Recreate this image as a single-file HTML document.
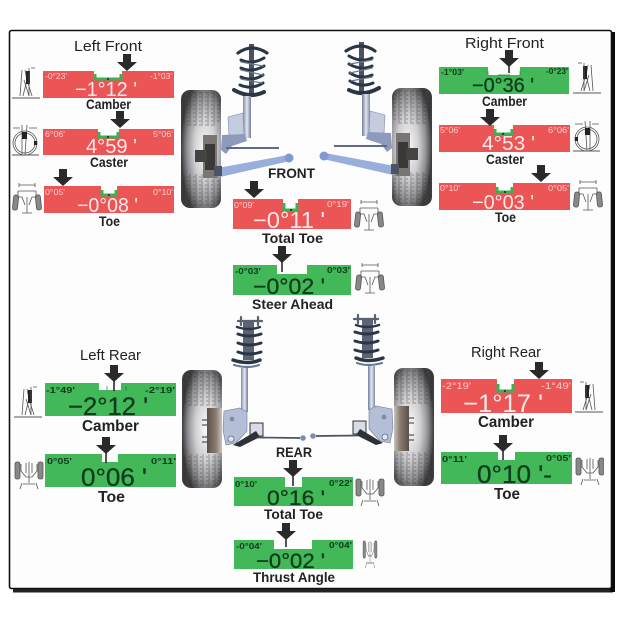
<!DOCTYPE html>
<html><head><meta charset="utf-8"><style>
html,body{margin:0;padding:0;background:#fff}
svg{display:block}
text{font-family:"Liberation Sans",sans-serif}
.h{font-size:15px;fill:#222}
.b{font-size:13.5px;font-weight:bold;fill:#222}
.w{fill:#fbe9e9;font-size:20px}
.k{fill:#0f3d1d;font-size:20px;stroke:#0f3d1d;stroke-width:.35}
.sw{fill:#f8d0d0;font-size:8px}
.sk{fill:#0f3d1d;font-size:8px;font-weight:bold}
.r{fill:#ec5455}
.g{fill:#43b859}
.t{fill:none;stroke:#3fae52;stroke-width:3}
.i{fill:none;stroke:#555;stroke-width:.8}
</style></head><body>
<svg width="620" height="620" viewBox="0 0 620 620" xmlns="http://www.w3.org/2000/svg">
<defs>
<radialGradient id="wg" cx=".6" cy=".5" r=".6"><stop offset="0" stop-color="#fafafa"/><stop offset=".45" stop-color="#cfcfd2"/><stop offset=".75" stop-color="#909094"/><stop offset="1" stop-color="#3c3c3e"/></radialGradient>
<linearGradient id="rod" x1="0" x2="1" y1="0" y2="0"><stop offset="0" stop-color="#7f8ba8"/><stop offset=".5" stop-color="#e4e8f0"/><stop offset="1" stop-color="#6f7c9c"/></linearGradient>
<linearGradient id="drum" x1="0" x2="1" y1="0" y2="0"><stop offset="0" stop-color="#5b5048"/><stop offset=".6" stop-color="#8a7d72"/><stop offset="1" stop-color="#c9c4be"/></linearGradient>
<pattern id="tr" width="6" height="4" patternUnits="userSpaceOnUse"><path d="M0 3H4M3 0V2" stroke="#222" stroke-width=".7" opacity=".5"/></pattern>
<g id="wheel"><rect width="40" height="118" rx="9" fill="url(#wg)"/><rect x="1" y="2" width="38" height="34" rx="8" fill="url(#tr)"/><rect x="1" y="84" width="38" height="32" rx="8" fill="url(#tr)"/></g>
<polygon id="arrow" points="-4,0 4,0 4,8 10,8 0,17 -10,8 -4,8" fill="#2c2c2c"/>
<g id="front">
<use href="#wheel" x="181" y="90"/>
<rect x="203" y="135" width="14" height="43" fill="#7a7673"/>
<rect x="205" y="144" width="10" height="26" fill="#3a3838"/>
<rect x="195" y="150" width="12" height="12" fill="#454343"/>
<rect x="249" y="44" width="5" height="52" fill="#4a5262"/>
<g fill="none" stroke="#2b3444" stroke-linecap="round">
<path d="M238 53 Q252 43 267 53" stroke-width="3.2"/>
<path d="M241 60 Q252 65 264 58M241 68 Q252 73 264 66M241 77 Q252 82 263 75M240 85 Q252 90 263 83" stroke-width="3"/>
<path d="M241 62 L263 66M241 70 L263 75M241 79 L262 83" stroke="#6b7a90" stroke-width="1.3"/>
<path d="M234 90 Q250 99 264 92" stroke-width="4"/>
</g>
<rect x="243" y="96" width="8" height="42" fill="url(#rod)"/>
<polygon points="228,117 243,113 244,137 229,135" fill="#c4cce0" stroke="#7f8ba8" stroke-width=".6"/>
<polygon points="222,135 245,134 247,141 232,146 226,154 221,150" fill="#8d9abb"/>
<path d="M226 148 L279 148" stroke="#5f6b85" stroke-width="2"/>
<polygon points="218,168 288,155 290,161 220,177" fill="#9aaedb"/>
<circle cx="289" cy="158" r="4.5" fill="#8198d2"/>
<rect x="214" y="166" width="8" height="10" fill="#4e5260"/>
</g>
<g id="rear">
<use href="#wheel" x="182" y="370"/>
<rect x="207" y="408" width="15" height="45" fill="url(#drum)"/>
<path d="M202 420H207M202 425H207M202 437H207M202 442H207" stroke="#333" stroke-width="1.1"/>
<g fill="none" stroke="#2b3444" stroke-linecap="round">
<path d="M238 321H262M241 317V325M258 317V325" stroke-width="2.2" stroke="#5a6270"/>
<rect x="243" y="322" width="11" height="38" fill="#5b6475" stroke="none"/>
<path d="M238 334 Q249 338 261 334M238 343 Q249 347 261 343M238 352 Q249 356 261 352" stroke-width="3"/>
<path d="M237 327 Q249 331 260 327" stroke-width="2.4"/>
<path d="M233 360 Q248 365 260 360" stroke-width="3.4"/>
<path d="M234 365 Q248 369 259 365" stroke-width="2.2" stroke="#6b7a90"/>
</g>
<rect x="241" y="368" width="7" height="44" fill="url(#rod)"/>
<polygon points="224,411 240,408 247,412 247,431 236,443 226,445 223,430" fill="#b4bed6" stroke="#6f7c9c" stroke-width=".6"/>
<circle cx="232" cy="419" r="2.4" fill="#7f8ba8"/><circle cx="231" cy="439" r="3" fill="#e0e4ee" stroke="#5f6b85" stroke-width=".8"/>
<rect x="250" y="423" width="13" height="13" fill="#d8dce6" stroke="#333" stroke-width="1"/>
<polygon points="233,445 256,431 260,437 240,447" fill="#2e3038"/>
<path d="M258 437.5 L300 438" stroke="#4a5260" stroke-width="1.7"/>
<circle cx="303" cy="438" r="2.8" fill="#7a8fb0"/>
</g>
<g id="cam" class="i"><path d="M0 0H28" stroke-width="1"/><path d="M8 -2 L10 -28 M11 -2 L15 -18 L13 -28 M17 -2 L12 -18 M20 -2 L15 -18"/><rect x="14" y="-27" width="4" height="13" fill="#222" stroke="none"/><path d="M17 -30 V-2 M19 -30 H23"/></g>
<g id="cas" class="i"><path d="M-13 12H14" stroke-width="1"/><ellipse cx="0" cy="0" rx="12" ry="12"/><ellipse cx="0" cy="0" rx="10" ry="10"/><path d="M-3 -18 V12 M2 -18 L0 12 M-12 -15H-5 M12 -15H4"/><rect x="-3" y="-11" width="5" height="7" fill="#222" stroke="none"/><rect x="9" y="-2" width="3" height="4" fill="#222" stroke="none"/></g>
<g id="toe" class="i"><rect x="0" y="12" width="5" height="15" rx="2" fill="#888" transform="rotate(6 2 20)"/><rect x="23" y="12" width="5" height="15" rx="2" fill="#888" transform="rotate(-6 25 20)"/><path d="M5 8H23M5 8V14H9L12 22 M23 8V14H19L16 22 M14 14V30M9 30H19 M6 2H22M6 0V4M22 0V4"/></g>
<g id="rt" class="i"><rect x="0" y="3" width="5" height="17" rx="2" fill="#888"/><rect x="23" y="3" width="5" height="17" rx="2" fill="#888"/><path d="M6 5V12L11 18H17L22 12V5M11 4V14M17 4V14M14 3V24M7 24L5 30M21 24L23 30 M8 25H20"/></g>
<filter id="bl" x="0" y="0" width="100%" height="100%"><feGaussianBlur stdDeviation=".35"/></filter>
</defs>

<rect x="13" y="589" width="600" height="3.5" fill="#222"/>
<rect x="610" y="32" width="5" height="560" fill="#0a0a0a"/>
<rect x="9.5" y="30.5" width="602" height="558" fill="#fdfdfd" stroke="#111" stroke-width="1.6" rx="2"/>

<g filter="url(#bl)">
<use href="#front"/>
<use href="#front" transform="translate(613,-2) scale(-1,1)"/>
<use href="#rear"/>
<use href="#rear" transform="translate(616,-2) scale(-1,1)"/>

<!-- Gauges -->
<path class="r" d="M43 71H94V80H122V71H174V98H43Z"/>
<path class="t" d="M95 74V79H121V74"/><circle cx="108" cy="79" r="1" fill="#222"/>
<path class="r" d="M43 129H98V138H119V129H174V155H43Z"/>
<path class="t" d="M99 132V137H118V132"/><circle cx="108" cy="137" r="1" fill="#222"/>
<path class="r" d="M44 186H101V196H117V186H174V213H44Z"/>
<path class="t" d="M102 190V195H116V190"/><circle cx="109" cy="195" r="1" fill="#222"/>
<path class="r" d="M233 199H283V211H298V199H351V229H233Z"/>
<path class="t" d="M284 203V210H297V203"/><circle cx="291" cy="210" r="1" fill="#222"/>
<path class="g" d="M233 265H277V274H307V265H351V295H233Z"/>
<path class="g" d="M439 67H488V75H520V67H569V94H439Z"/>
<path d="M488 71V75M520 71V75M498 75H510" stroke="#2b7a3e" stroke-width=".7"/>
<path class="r" d="M439 125H494V135H513V125H570V152H439Z"/>
<path class="t" d="M495 129V134H512V129"/><circle cx="503" cy="134" r="1" fill="#222"/>
<path class="r" d="M439 183H496V193H513V183H570V210H439Z"/>
<path class="t" d="M497 187V192H512V187"/><circle cx="505" cy="192" r="1" fill="#222"/>
<path class="g" d="M45 383H99V390H121V383H176V416H45Z"/>
<path d="M107 386V390M126 386V391" stroke="#2b7a3e" stroke-width=".7"/>
<path class="g" d="M45 454H102V462H118V454H176V487H45Z"/>
<path class="g" d="M234 477H285V487H302V477H353V506H234Z"/>
<path class="g" d="M234 540H274V549H312V540H353V569H234Z"/>
<path class="r" d="M441 379H497V392H514V379H572V413H441Z"/>
<path class="t" d="M498 384V391H513V384"/><circle cx="505" cy="391" r="1" fill="#222"/>
<path class="g" d="M441 452H498V460H515V452H572V484H441Z"/>

<!-- Arrows -->
<use href="#arrow" x="127" y="54"/><use href="#arrow" x="120" y="111"/><use href="#arrow" x="63" y="169"/>
<use href="#arrow" x="254" y="181"/><use href="#arrow" x="282" y="246"/>
<use href="#arrow" x="509" y="50"/><use href="#arrow" x="490" y="109"/><use href="#arrow" x="541" y="165"/>
<use href="#arrow" x="114" y="365"/><use href="#arrow" x="106" y="437"/>
<use href="#arrow" x="293" y="460"/><use href="#arrow" x="286" y="523"/>
<use href="#arrow" x="539" y="362"/><use href="#arrow" x="503" y="435"/>
<path d="M282 262V272M509 66V73M114 381V391M106 453V463M293 476V486M286 539V547M503 451V460" stroke="#2c2c2c" stroke-width="1.6"/>

<!-- Icons -->
<use href="#cam" transform="translate(12,98)"/>
<use href="#cam" transform="translate(601,93) scale(-1,1)"/>
<use href="#cam" transform="translate(14,417)"/>
<use href="#cam" transform="translate(603,412) scale(-1,1)"/>
<use href="#cas" transform="translate(25,143)"/>
<use href="#cas" transform="translate(587,139) scale(-1,1)"/>
<use href="#toe" transform="translate(13,183)"/>
<use href="#toe" transform="translate(574,180)"/>
<use href="#toe" transform="translate(355,200)"/>
<use href="#toe" transform="translate(356,263)"/>
<use href="#rt" transform="translate(15,459)"/>
<use href="#rt" transform="translate(576,455)"/>
<use href="#rt" transform="translate(356,476)"/>
<use href="#rt" transform="translate(363,538) scale(.5,1)"/>

<!-- Headings -->
<text class="h" x="74" y="51" textLength="68" lengthAdjust="spacingAndGlyphs">Left Front</text>
<text class="h" x="465" y="48" textLength="79" lengthAdjust="spacingAndGlyphs">Right Front</text>
<text class="h" x="80" y="360" textLength="61" lengthAdjust="spacingAndGlyphs">Left Rear</text>
<text class="h" x="471" y="357" textLength="70" lengthAdjust="spacingAndGlyphs">Right Rear</text>

<!-- Labels -->
<text class="b" x="86" y="109" textLength="45" lengthAdjust="spacingAndGlyphs">Camber</text>
<text class="b" x="90" y="167" textLength="38" lengthAdjust="spacingAndGlyphs">Caster</text>
<text class="b" x="99" y="226" textLength="21" lengthAdjust="spacingAndGlyphs">Toe</text>
<text class="b" x="268" y="178" textLength="47" lengthAdjust="spacingAndGlyphs">FRONT</text>
<text class="b" x="262" y="243" textLength="61" lengthAdjust="spacingAndGlyphs">Total Toe</text>
<text class="b" x="252" y="309" textLength="81" lengthAdjust="spacingAndGlyphs">Steer Ahead</text>
<text class="b" x="482" y="106" textLength="45" lengthAdjust="spacingAndGlyphs">Camber</text>
<text class="b" x="486" y="164" textLength="38" lengthAdjust="spacingAndGlyphs">Caster</text>
<text class="b" x="495" y="222" textLength="21" lengthAdjust="spacingAndGlyphs">Toe</text>
<text class="b" style="font-size:15.5px" x="82" y="431" textLength="57" lengthAdjust="spacingAndGlyphs">Camber</text>
<text class="b" style="font-size:15.5px" x="98" y="502" textLength="27" lengthAdjust="spacingAndGlyphs">Toe</text>
<text class="b" x="276" y="457" textLength="36" lengthAdjust="spacingAndGlyphs">REAR</text>
<text class="b" x="264" y="519" textLength="59" lengthAdjust="spacingAndGlyphs">Total Toe</text>
<text class="b" x="253" y="582" textLength="82" lengthAdjust="spacingAndGlyphs">Thrust Angle</text>
<text class="b" style="font-size:15.5px" x="478" y="427" textLength="56" lengthAdjust="spacingAndGlyphs">Camber</text>
<text class="b" style="font-size:15.5px" x="494" y="499" textLength="26" lengthAdjust="spacingAndGlyphs">Toe</text>

<!-- Small values -->
<text class="sw" x="45" y="79" textLength="22" lengthAdjust="spacingAndGlyphs">-0°23'</text>
<text class="sw" x="150" y="79" textLength="22" lengthAdjust="spacingAndGlyphs">-1°03'</text>
<text class="sw" x="45" y="137" textLength="20" lengthAdjust="spacingAndGlyphs">6°06'</text>
<text class="sw" x="153" y="137" textLength="20" lengthAdjust="spacingAndGlyphs">5°06'</text>
<text class="sw" x="45" y="195" textLength="20" lengthAdjust="spacingAndGlyphs">0°05'</text>
<text class="sw" x="153" y="195" textLength="20" lengthAdjust="spacingAndGlyphs">0°10'</text>
<text class="sw" x="234" y="208" textLength="20" lengthAdjust="spacingAndGlyphs">0°09'</text>
<text class="sw" x="327" y="207" textLength="22" lengthAdjust="spacingAndGlyphs">0°19'</text>
<text class="sk" x="235" y="274" textLength="26" lengthAdjust="spacingAndGlyphs">-0°03'</text>
<text class="sk" x="327" y="273" textLength="23" lengthAdjust="spacingAndGlyphs">0°03'</text>
<text class="sk" x="441" y="75" textLength="23" lengthAdjust="spacingAndGlyphs">-1°03'</text>
<text class="sk" x="546" y="74" textLength="22" lengthAdjust="spacingAndGlyphs">-0°23'</text>
<text class="sw" x="440" y="133" textLength="20" lengthAdjust="spacingAndGlyphs">5°06'</text>
<text class="sw" x="548" y="133" textLength="21" lengthAdjust="spacingAndGlyphs">6°06'</text>
<text class="sw" x="440" y="191" textLength="20" lengthAdjust="spacingAndGlyphs">0°10'</text>
<text class="sw" x="548" y="191" textLength="21" lengthAdjust="spacingAndGlyphs">0°05'</text>
<text class="sk" x="46" y="393" textLength="29" lengthAdjust="spacingAndGlyphs">-1°49'</text>
<text class="sk" x="145" y="393" textLength="30" lengthAdjust="spacingAndGlyphs">-2°19'</text>
<text class="sk" x="47" y="464" textLength="25" lengthAdjust="spacingAndGlyphs">0°05'</text>
<text class="sk" x="151" y="464" textLength="25" lengthAdjust="spacingAndGlyphs">0°11'</text>
<text class="sk" x="235" y="487" textLength="22" lengthAdjust="spacingAndGlyphs">0°10'</text>
<text class="sk" x="329" y="486" textLength="23" lengthAdjust="spacingAndGlyphs">0°22'</text>
<text class="sk" x="236" y="549" textLength="26" lengthAdjust="spacingAndGlyphs">-0°04'</text>
<text class="sk" x="329" y="548" textLength="23" lengthAdjust="spacingAndGlyphs">0°04'</text>
<text class="sw" style="font-size:9px" x="442" y="389" textLength="29" lengthAdjust="spacingAndGlyphs">-2°19'</text>
<text class="sw" style="font-size:9px" x="541" y="389" textLength="30" lengthAdjust="spacingAndGlyphs">-1°49'</text>
<text class="sk" x="442" y="462" textLength="25" lengthAdjust="spacingAndGlyphs">0°11'</text>
<text class="sk" x="546" y="461" textLength="25" lengthAdjust="spacingAndGlyphs">0°05'</text>

<!-- Main values -->
<text class="w" x="75" y="96" textLength="62" lengthAdjust="spacingAndGlyphs">−1°12 '</text>
<text class="w" x="86" y="153" textLength="51" lengthAdjust="spacingAndGlyphs">4°59 '</text>
<text class="w" x="77" y="212" textLength="61" lengthAdjust="spacingAndGlyphs">−0°08 '</text>
<text class="w" style="font-size:23px" x="253" y="228" textLength="72" lengthAdjust="spacingAndGlyphs">−0°11 '</text>
<text class="k" style="font-size:22px" x="253" y="294" textLength="72" lengthAdjust="spacingAndGlyphs">−0°02 '</text>
<text class="k" x="472" y="92" textLength="62" lengthAdjust="spacingAndGlyphs">−0°36 '</text>
<text class="w" x="482" y="150" textLength="53" lengthAdjust="spacingAndGlyphs">4°53 '</text>
<text class="w" x="472" y="209" textLength="62" lengthAdjust="spacingAndGlyphs">−0°03 '</text>
<text class="k" style="font-size:25px" x="68" y="415" textLength="80" lengthAdjust="spacingAndGlyphs">−2°12 '</text>
<text class="k" style="font-size:25px" x="81" y="486" textLength="66" lengthAdjust="spacingAndGlyphs">0°06 '</text>
<text class="k" style="font-size:21px" x="267" y="505" textLength="58" lengthAdjust="spacingAndGlyphs">0°16 '</text>
<text class="k" style="font-size:21px" x="256" y="568" textLength="69" lengthAdjust="spacingAndGlyphs">−0°02 '</text>
<text class="w" style="font-size:25px" x="463" y="412" textLength="80" lengthAdjust="spacingAndGlyphs">−1°17 '</text>
<text class="k" style="font-size:25px" x="477" y="483" textLength="75" lengthAdjust="spacingAndGlyphs">0°10 '-</text>
</g>
</svg>
</body></html>
